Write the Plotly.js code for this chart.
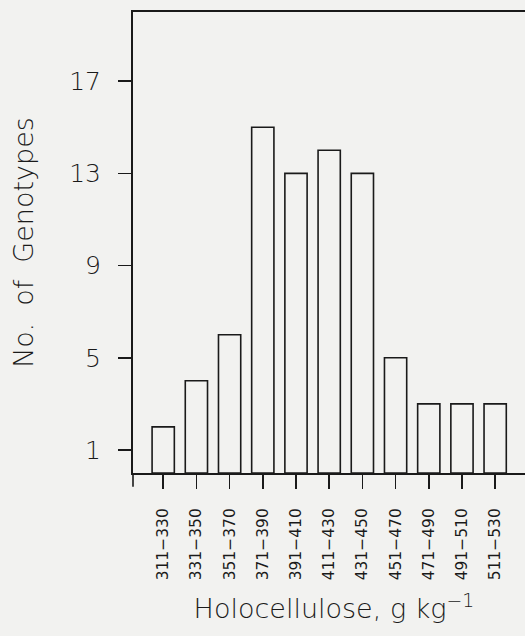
<!DOCTYPE html>
<html><head><meta charset="utf-8">
<script src="https://cdn.plot.ly/plotly-3.0.1.min.js"></script>
<style>html,body{margin:0;padding:0;overflow:hidden;background:#f2f2f0;width:525px;height:636px}</style>
</head><body><div id="chart"></div>
<script>
const categories = ["311\u2212330","331\u2212350","351\u2212370","371\u2212390","391\u2212410","411\u2212430","431\u2212450","451\u2212470","471\u2212490","491\u2212510","511\u2212530"];
const genotypeCounts = [2,4,6,15,13,14,13,5,3,3,3];
const yTicks = [1,5,9,13,17];

const ink = '#1a1a1a';
const font = 'DejaVu Sans, sans-serif';

Plotly.newPlot('chart', [{
  type: 'bar',
  x: categories.map((c,i)=>i),
  y: genotypeCounts,
  marker: {color: 'rgba(255,255,255,0)', line: {color: ink, width: 1.6}},
  width: 0.67,
  hoverinfo: 'x+y'
}], {
  width: 545, height: 636,
  margin: {l: 133, r: 10, t: 12, b: 163},
  paper_bgcolor: '#f2f2f0', plot_bgcolor: '#f2f2f0',
  font: {family: font, color: ink, weight: 200},
  showlegend: false,
  xaxis: {
    range: [-0.91, 11.2],
    tickmode: 'array', tickvals: categories.map((c,i)=>i), ticktext: categories,
    tickangle: -90, tickfont: {size: 15.5, color: ink, weight: 400},
    ticks: 'outside', ticklen: 14, tickwidth: 1.6, tickcolor: ink,
    ticklabelstandoff: 13,
    showline: true, linecolor: ink, linewidth: 2, mirror: true,
    showgrid: false, zeroline: false,
    title: {text: 'Holocellulose, g kg<sup>\u22121</sup>', font: {size: 27, color: ink, weight: 200}, standoff: 20}
  },
  yaxis: {
    range: [0, 20],
    tickmode: 'array', tickvals: yTicks,
    tickfont: {size: 25, color: ink, weight: 200},
    ticks: 'outside', ticklen: 13, tickwidth: 1.6, tickcolor: ink,
    ticklabelstandoff: 12,
    showline: true, linecolor: ink, linewidth: 2,
    showgrid: false, zeroline: false,
    title: {text: 'No.  of  Genotypes', font: {size: 27, color: ink, weight: 200}, standoff: 28}
  },
  shapes: [{type:'line', xref:'paper', yref:'paper', x0:0, x1:0, y0:0, y1:-0.03, line:{color:ink, width:1.6}}]
}, {displayModeBar: false, staticPlot: true});
</script></body></html>
